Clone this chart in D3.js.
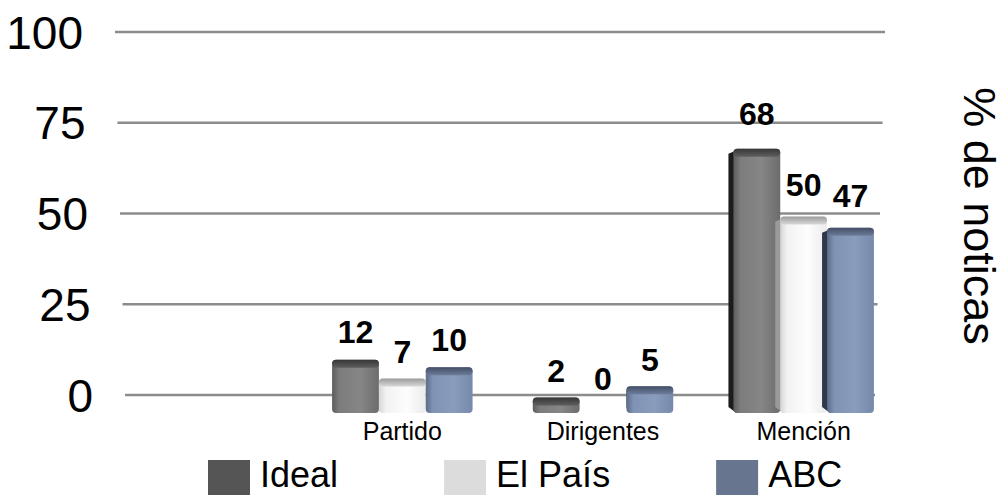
<!DOCTYPE html>
<html>
<head>
<meta charset="utf-8">
<script src="https://cdn.jsdelivr.net/npm/d3@7"></script>
<style>
  html, body { margin: 0; background: #fff; }
  svg { display: block; font-family: "Liberation Sans", Arial, Helvetica, sans-serif; }
</style>
</head>
<body>
<svg id="chart" width="1007" height="495"></svg>
<script>
// ---- data ----
const categories = ["Partido", "Dirigentes", "Mención"];
const series = ["Ideal", "El País", "ABC"];
const ideal = [12, 2, 68];
const elPais = [7, 0, 50];
const abc = [10, 5, 47];
const yTicks = [0, 25, 50, 75, 100];
const axisTitle = "% de noticas";

const values = [ideal, elPais, abc];

// ---- styling per series ----
const legendColors = ["#555555", "#dcdcdc", "#67758f"];
const frontStops = [
  ["#5c5c5c", "#7c7c7c", "#868686", "#6c6c6c"],
  ["#d6d6d6", "#f2f2f2", "#fdfdfd", "#ebebeb"],
  ["#5b6b88", "#8093b4", "#899cbc", "#7689ab"]
];
const topStops = [
  ["#363636", "#5e5e5e"],
  ["#9c9c9c", "#d8d8d8"],
  ["#444f66", "#6c7c9a"]
];
const sideColors = ["#1c1c1c", "#9a9a9a", "#2f3849"];

const svg = d3.select("#chart");
const defs = svg.append("defs");

series.forEach((s, j) => {
  const g = defs.append("linearGradient").attr("id", "front" + j)
    .attr("x1", 0).attr("x2", 1).attr("y1", 0).attr("y2", 0);
  [0, 0.15, 0.6, 1].forEach((o, k) =>
    g.append("stop").attr("offset", o).attr("stop-color", frontStops[j][k]));
  const t = defs.append("linearGradient").attr("id", "top" + j)
    .attr("x1", 0).attr("x2", 0).attr("y1", 0).attr("y2", 1);
  t.append("stop").attr("offset", 0).attr("stop-color", topStops[j][0]);
  t.append("stop").attr("offset", 1).attr("stop-color", topStops[j][1]);
});

// ---- scales ----
// axis scale for gridlines / tick labels
const y = d3.scaleLinear().domain([0, 100]).range([395, 32]);
// slight perspective: gridlines widen toward the top
const gridLeft = d3.scaleLinear().domain([0, 100]).range([125, 115]);
const gridRight = d3.scaleLinear().domain([0, 100]).range([875, 885]);

// bars stand on a floor seen in perspective below the zero line
const floorY = 413;
const barY = d3.scaleLinear().domain([0, 100]).range([405, 28]);

const x0 = d3.scaleBand().domain(categories).range([302, 904])
  .paddingInner(0.30).paddingOuter(0.15);
const x1 = d3.scaleBand().domain(series).range([0, x0.bandwidth()]);

// ---- gridlines ----
svg.append("g").selectAll("line").data(yTicks).join("line")
  .attr("x1", d => gridLeft(d)).attr("x2", d => gridRight(d))
  .attr("y1", d => y(d)).attr("y2", d => y(d))
  .attr("stroke", "#8c8c8c").attr("stroke-width", 2.6);

// ---- tick labels ----
svg.append("g").selectAll("text").data(yTicks).join("text")
  .attr("x", d => gridLeft(d) - 32)
  .attr("y", d => y(d))
  .attr("dy", "0.36em")
  .attr("text-anchor", "end")
  .attr("font-size", 46)
  .attr("fill", "#000")
  .text(d => d);

// ---- bars ----
const rows = [];
categories.forEach((c, i) => series.forEach((s, j) => rows.push({ c, s, j, v: values[j][i] })));

const barG = svg.append("g");
rows.forEach(d => {
  const bx = x0(d.c) + x1(d.s);
  const bw = x1.bandwidth();
  const cx = bx + bw / 2;
  if (d.v > 0) {
    const top = barY(d.v);
    const h = floorY - top;
    const g = barG.append("g");
    // visible left side face for bars right of the viewpoint
    const side = Math.max(0, Math.min(7, (cx - 610) / 20));
    if (side > 0.5) {
      g.append("path")
        .attr("d", `M${bx + 2},${top + 2} L${bx + 2 - side},${top + 5} L${bx + 2 - side},${floorY - 6} L${bx + 3},${floorY} Z`)
        .attr("fill", sideColors[d.j]);
    }
    g.append("rect")
      .attr("x", bx).attr("y", top).attr("width", bw).attr("height", h)
      .attr("rx", 4).attr("ry", 4)
      .attr("fill", `url(#front${d.j})`);
    g.append("rect")
      .attr("x", bx).attr("y", top).attr("width", bw).attr("height", Math.min(8, h))
      .attr("rx", 4).attr("ry", 4)
      .attr("fill", `url(#top${d.j})`);
  }
});

// ---- value labels ----
svg.append("g").selectAll("text").data(rows).join("text")
  .attr("x", d => x0(d.c) + x1(d.s) + x1.bandwidth() / 2)
  .attr("y", d => barY(d.v) - (15 + 0.12 * d.v))
  .attr("text-anchor", "middle")
  .attr("font-size", 32)
  .attr("font-weight", "bold")
  .attr("fill", "#000")
  .text(d => d.v);

// ---- category labels ----
svg.append("g").selectAll("text").data(categories).join("text")
  .attr("x", d => x0(d) + x0.bandwidth() / 2)
  .attr("y", 440)
  .attr("text-anchor", "middle")
  .attr("font-size", 25)
  .attr("fill", "#000")
  .text(d => d);

// ---- axis title (right side, reading downward) ----
svg.append("text")
  .attr("transform", "translate(964,216) rotate(90)")
  .attr("text-anchor", "middle")
  .attr("font-size", 45)
  .attr("fill", "#000")
  .text(axisTitle);

// ---- legend ----
const legend = svg.append("g");
let lx = 208;
series.forEach((s, j) => {
  legend.append("rect")
    .attr("x", lx).attr("y", 460).attr("width", 42).attr("height", 35)
    .attr("fill", legendColors[j]);
  const t = legend.append("text")
    .attr("x", lx + 52).attr("y", 487)
    .attr("font-size", 36)
    .attr("fill", "#000")
    .text(s);
  lx = lx + 52 + t.node().getComputedTextLength() + 106;
});
</script>
</body>
</html>
